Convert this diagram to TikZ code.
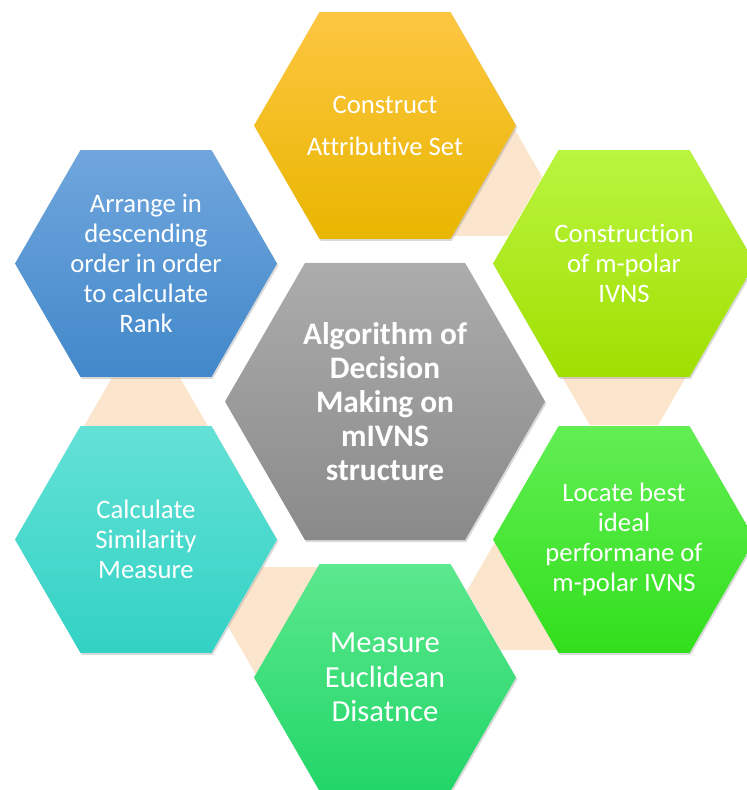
\documentclass[tikz,border=0pt]{standalone}
\usepackage{fontspec}
\setmainfont{Carlito}[Ligatures=NoCommon]
\usetikzlibrary{shapes.geometric,calc,backgrounds,shadows}

\definecolor{peach}{RGB}{252,229,205}
\definecolor{orangeT}{RGB}{253,198,66}
\definecolor{orangeB}{RGB}{233,182,0}
\definecolor{limeT}{RGB}{186,245,64}
\definecolor{limeB}{RGB}{160,223,0}
\definecolor{greenT}{RGB}{98,238,84}
\definecolor{greenB}{RGB}{50,223,28}
\definecolor{mintT}{RGB}{92,232,142}
\definecolor{mintB}{RGB}{34,214,104}
\definecolor{cyanT}{RGB}{100,225,214}
\definecolor{cyanB}{RGB}{50,210,197}
\definecolor{blueT}{RGB}{112,166,221}
\definecolor{blueB}{RGB}{66,136,202}
\definecolor{grayT}{RGB}{172,172,172}
\definecolor{grayB}{RGB}{138,138,138}

\begin{document}
\begin{tikzpicture}[x=0.75pt,y=0.75pt,
    hexa/.style={regular polygon,regular polygon sides=6,minimum size=196.5pt,
      inner sep=0pt,text=white,align=center,font=\fontsize{20}{22.5}\selectfont,
      drop shadow={shadow xshift=1pt,shadow yshift=-1.5pt,opacity=.3}},
    link/.style={regular polygon,regular polygon sides=6,minimum size=102pt,
      inner sep=0pt,fill=peach}]
  \useasboundingbox (0,0) rectangle (747,790);

  % centre and the six steps round it
  \node[hexa,minimum size=240pt,top color=grayT,bottom color=grayB,
    font=\bfseries\fontsize{23.5}{25.5}\selectfont] (alg) at (385,388.5)
    {Algorithm of\\Decision\\Making on\\mIVNS\\structure};
  \node[hexa,top color=orangeT,bottom color=orangeB] (attr) at ($(alg)+(90:276)$)
    {Construct\\[9pt]Attributive Set};
  \node[hexa,top color=limeT,bottom color=limeB] (ivns) at ($(alg)+(30:276)$)
    {Construction\\of m-polar\\IVNS};
  \node[hexa,top color=greenT,bottom color=greenB] (ideal) at ($(alg)+(-30:276)$)
    {Locate best\\ideal\\performane of\\m-polar IVNS};
  \node[hexa,top color=mintT,bottom color=mintB,font=\fontsize{23}{26}\selectfont]
    (dist) at ($(alg)+(-90:276)$) {Measure\\Euclidean\\Disatnce};
  \node[hexa,top color=cyanT,bottom color=cyanB] (simil) at ($(alg)+(-150:276)$)
    {Calculate\\Similarity\\Measure};
  \node[hexa,top color=blueT,bottom color=blueB] (rank) at ($(alg)+(150:276)$)
    {Arrange in\\descending\\order in order\\to calculate\\Rank};

  % links behind the steps
  \begin{scope}[on background layer]
    \node[link] (l1) at ($(attr)!0.373!(ivns)$) {};
    \node[link] (l2) at ($(ivns)!0.373!(ideal)$) {};
    \node[link] (l3) at ($(ideal)!0.373!(dist)$) {};
    \node[link] (l4) at ($(dist)!0.373!(simil)$) {};
    \node[link] (l5) at ($(simil)!0.373!(rank)$) {};
  \end{scope}
\end{tikzpicture}
\end{document}
